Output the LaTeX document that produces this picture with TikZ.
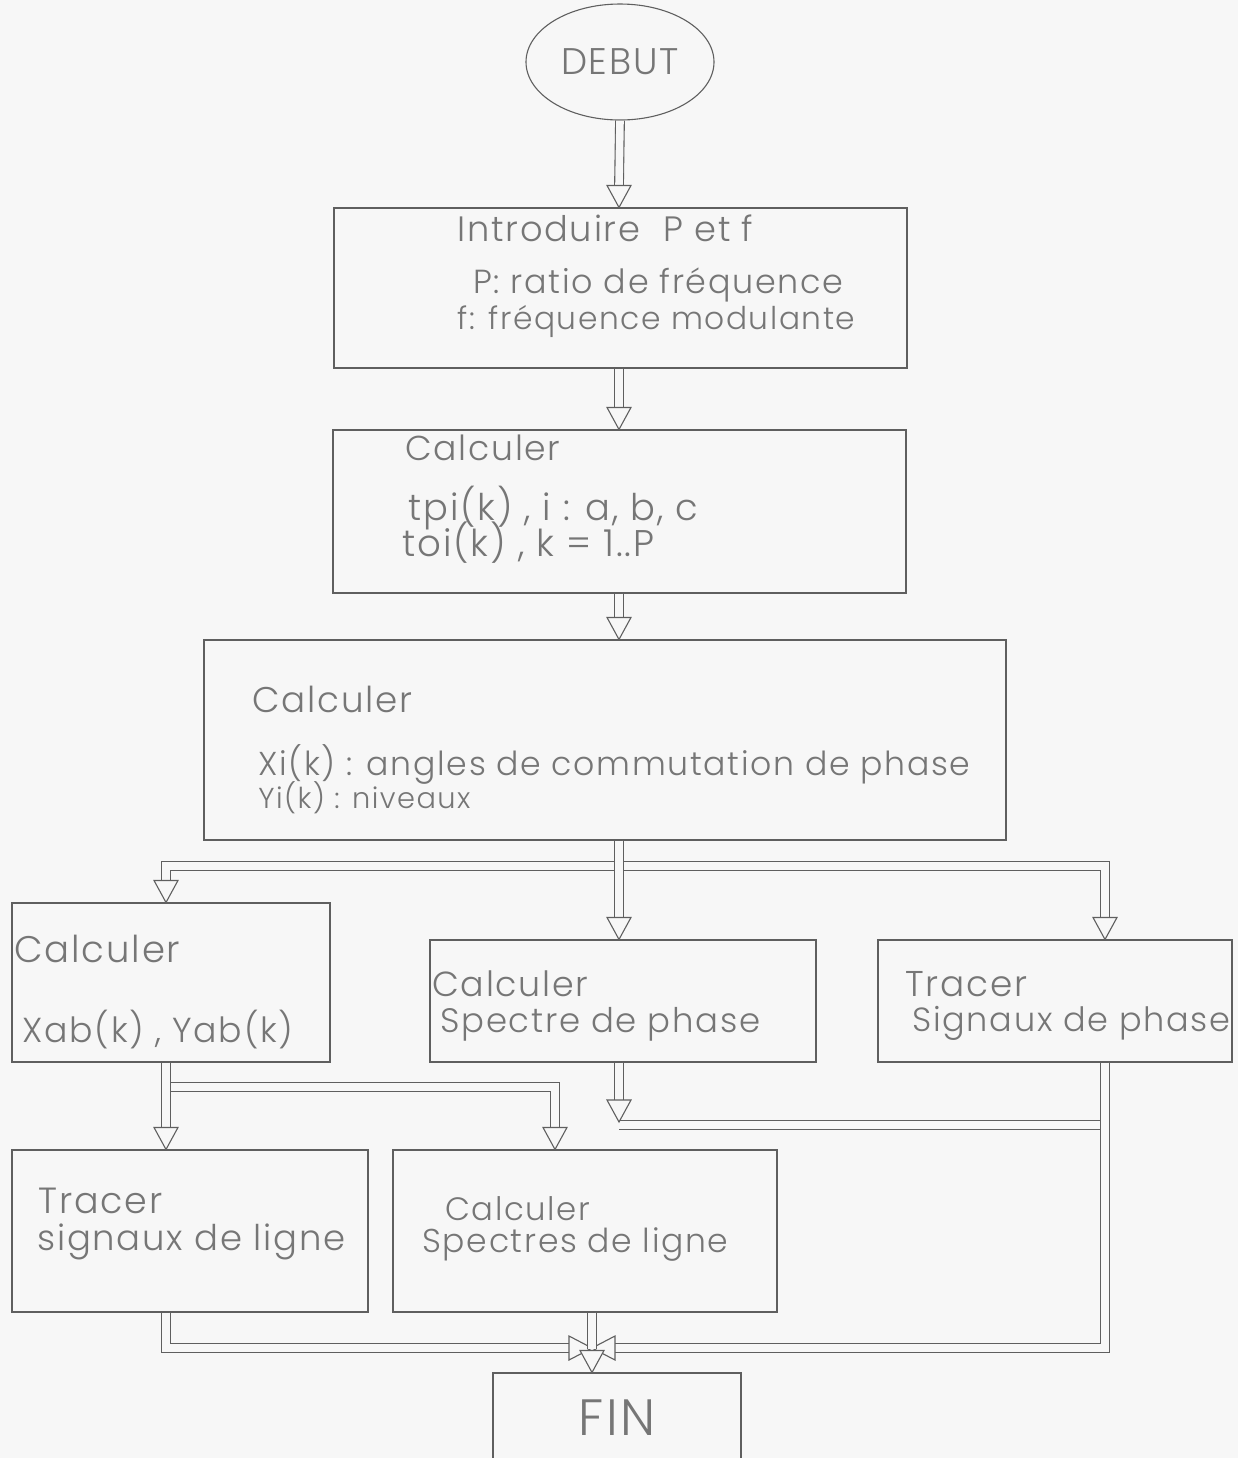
\documentclass[tikz,border=0pt]{standalone}
\usepackage{fontspec}
\usepackage{graphicx}
\usetikzlibrary{shapes.geometric,fit,calc}
\IfFontExistsTF{Poppins Light}
  {\setmainfont{Poppins Light}[LetterSpace=5]}
  {\setmainfont{Poppins}[LetterSpace=5]}

\definecolor{bgc}{RGB}{247,247,247}
\definecolor{linec}{RGB}{95,95,95}
\definecolor{txtc}{RGB}{118,118,118}

% one drawing unit = one pixel of the sheet
\newdimen\upx \upx=0.5pt
\newcommand\fw[2]{\resizebox{#1\upx}{!}{#2}}

\tikzset{
  box/.style={draw=linec, line width=0.55pt, inner sep=0pt},
  lbl/.style={inner sep=0pt, anchor=base west, text=txtc},
  pipe/.style={draw=linec, line width=0.55pt, double=bgc, double distance=3.8pt},
  headS/.pic={\path[draw=linec, fill=bgc, line width=0.55pt, line join=miter]
    (0,0) -- (-12,-22) -- (12,-22) -- cycle;},
  headE/.pic={\path[draw=linec, fill=bgc, line width=0.55pt, line join=miter]
    (0,0) -- (-23,-12) -- (-23,12) -- cycle;},
  headW/.pic={\path[draw=linec, fill=bgc, line width=0.55pt, line join=miter]
    (0,0) -- (23,-12) -- (23,12) -- cycle;},
}

\begin{document}
\begin{tikzpicture}[x=0.5pt, y=-0.5pt, font=\fontsize{16pt}{19pt}\selectfont]
\useasboundingbox (0,0) rectangle (1238,1458);
\clip (0,0) rectangle (1238,1458);
\fill[bgc] (0,0) rectangle (1238,1458);

% ---- boxes ----
\node[box, draw, ellipse, minimum width=94pt, minimum height=58pt, text=txtc]
  (debut) at (620,62) {\fw{118}{DEBUT}};
\node[box, fit={(334,208)(907,368)}] (b1) {};
\node[box, fit={(333,430)(906,593)}] (b2) {};
\node[box, fit={(204,640)(1006,840)}] (b3) {};
\node[box, fit={(12,903)(330,1062)}] (b4) {};
\node[box, fit={(430,940)(816,1062)}] (b5) {};
\node[box, fit={(878,940)(1232,1062)}] (b6) {};
\node[box, fit={(12,1150)(368,1312)}] (b7) {};
\node[box, fit={(393,1150)(777,1312)}] (b8) {};
\node[box, fit={(493,1373)(741,1470)}] (fin) {};

% ---- texts ----
\node[lbl] (t1a) at (457,241) {\fw{296}{Introduire\ \ P et f}};
\node[lbl] (t1b) at (473,293) {\fw{370}{P: ratio de fréquence}};
\node[lbl] (t1c) at (457,329) {\fw{398}{f: fréquence modulante}};

\node[lbl] (t2a) at (405,460) {\fw{155}{Calculer}};
\node[lbl] (t2b) at (408,520) {\fw{290}{tpi(k) , i : a, b, c}};
\node[lbl] (t2c) at (402,556) {\fw{252}{toi(k) , k = 1..P}};

\node[lbl] (t3a) at (252,712) {\fw{160}{Calculer}};
\node[lbl] (t3b) at (258,775) {\fw{712}{Xi(k) : angles de commutation de phase}};
\node[lbl] (t3c) at (258,808) {\fw{212}{Yi(k) : niveaux}};

\node[lbl] (t4a) at (14,962)  {\fw{166}{Calculer}};
\node[lbl] (t4b) at (22,1042) {\fw{271}{Xab(k) , Yab(k)}};
\node[lbl] (t5a) at (432,996) {\fw{156}{Calculer}};
\node[lbl] (t5b) at (440,1032) {\fw{320}{Spectre de phase}};
\node[lbl] (t6a) at (905,996) {\fw{122}{Tracer}};
\node[lbl] (t6b) at (912,1031) {\fw{318}{Signaux de phase}};
\node[lbl] (t7a) at (38,1213)  {\fw{124}{Tracer}};
\node[lbl] (t7b) at (37,1250)  {\fw{308}{signaux de ligne}};
\node[lbl] (t8a) at (445,1220) {\fw{145}{Calculer}};
\node[lbl] (t8b) at (422,1252) {\fw{306}{Spectres de ligne}};
\node[lbl] (t9)  at (578,1435) {\fw{77}{FIN}};

% ---- junction points ----
\coordinate (m)  at (619,0);
\coordinate (jL) at (166,866);
\coordinate (jR) at (1105,866);
\coordinate (k1) at (166,1087);
\coordinate (k2) at (555,1087);
\coordinate (h5) at (619,1125);
\coordinate (t5) at (619,1122);
\coordinate (f0) at (592,1348);

% ---- main chain ----
\draw[pipe] (debut.south) -- ($(m |- b1.north)+(0,-22)$);
\pic at (m |- b1.north) {headS};
\draw[pipe] (m |- b1.south) -- ($(m |- b2.north)+(0,-22)$);
\pic at (m |- b2.north) {headS};
\draw[pipe] (m |- b2.south) -- ($(m |- b3.north)+(0,-22)$);
\pic at (m |- b3.north) {headS};

% ---- three-way branch ----
\draw[pipe] ($(jL |- b4.north)+(0,-22)$) -- (jL) -- (jR) -- ($(jR |- b6.north)+(0,-22)$);
\draw[pipe] (m |- b3.south) -- ($(m |- b5.north)+(0,-22)$);
\pic at (jL |- b4.north) {headS};
\pic at (m |- b5.north) {headS};
\pic at (jR |- b6.north) {headS};

% ---- from the left column ----
\draw[pipe] (k1) -- (k2) -- ($(k2 |- b8.north)+(0,-22)$);
\draw[pipe] (jL |- b4.south) -- ($(jL |- b7.north)+(0,-22)$);
\pic at (k2 |- b8.north) {headS};
\pic at (jL |- b7.north) {headS};

% ---- phase spectrum joins the right column ----
\draw[pipe] (h5) -- (jR |- h5);
\draw[pipe] (m |- b5.south) -- ($(t5)+(0,-20)$);
\pic at (t5) {headS};

% ---- collecting towards FIN ----
\draw[pipe] (jR |- b6.south) -- (jR |- f0) -- ($(f0)+(23,0)$);
\draw[pipe] (jL |- b7.south) -- (jL |- f0) -- ($(f0)+(-23,0)$);
\pic at (f0) {headE};
\pic at (f0) {headW};
\draw[pipe] (f0 |- b8.south) -- ($(f0 |- fin.north)+(0,-23)$);
\pic at (f0 |- fin.north) {headS};
\end{tikzpicture}
\end{document}
